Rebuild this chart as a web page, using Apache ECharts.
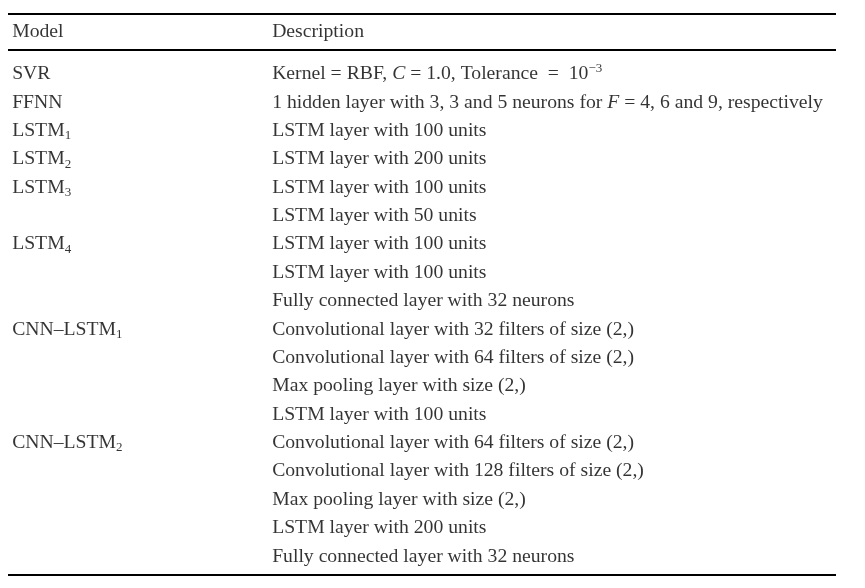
<!DOCTYPE html>
<html>
<head>
<meta charset="utf-8">
<script src="https://cdn.jsdelivr.net/npm/echarts@6/dist/echarts.min.js"></script>
<style>html,body{margin:0;padding:0;background:#fff}#c{width:865px;height:588px}</style>
</head>
<body>
<div id="c"></div>
<script>
// Table content
const headers = ['Model', 'Description'];
const models = ['SVR', 'FFNN', 'LSTM_1', 'LSTM_2', 'LSTM_3', '', 'LSTM_4', '', '',
  'CNN–LSTM_1', '', '', '', 'CNN–LSTM_2', '', '', '', ''];
const descriptions = [
  'Kernel = RBF, *C* = 1.0, Tolerance  =  10^−3',
  '1 hidden layer with 3, 3 and 5 neurons for *F* = 4, 6 and 9, respectively',
  'LSTM layer with 100 units',
  'LSTM layer with 200 units',
  'LSTM layer with 100 units',
  'LSTM layer with 50 units',
  'LSTM layer with 100 units',
  'LSTM layer with 100 units',
  'Fully connected layer with 32 neurons',
  'Convolutional layer with 32 filters of size (2,)',
  'Convolutional layer with 64 filters of size (2,)',
  'Max pooling layer with size (2,)',
  'LSTM layer with 100 units',
  'Convolutional layer with 64 filters of size (2,)',
  'Convolutional layer with 128 filters of size (2,)',
  'Max pooling layer with size (2,)',
  'LSTM layer with 200 units',
  'Fully connected layer with 32 neurons'
];
// layout positions (axis units)
const colPos = [0.005, 0.319];
const headerRow = -1.49;
const ruleRows = [-2.13, -0.85, 17.64];

function toRich(s) {
  return s.replace(/_(\d)/g, '{sub|$1}')
          .replace(/\*([^*]+)\*/g, '{it|$1}')
          .replace(/\^(\S+)/g, '{sup|$1}');
}

const FONT = 'Liberation Serif';
const FS = 19.7;
const COLOR = '#000';
const rich = {
  sub: { fontFamily: FONT, fontSize: 13, color: COLOR, padding: [10, 0, 0, 0] },
  sup: { fontFamily: FONT, fontSize: 13, color: COLOR, padding: [0, 0, 10, 0] },
  it: { fontFamily: FONT, fontSize: FS, fontStyle: 'italic', color: COLOR }
};

function cells(col, texts) {
  return texts.map((t, i) => ({ value: [colPos[col], i], txt: t }));
}

const allData = []
  .concat(headers.map((h, c) => ({ value: [colPos[c], headerRow], txt: h })))
  .concat(cells(0, models))
  .concat(cells(1, descriptions));

const chart = echarts.init(document.getElementById('c'), null, { renderer: 'canvas' });
chart.setOption({
  animation: false,
  backgroundColor: '#fff',
  grid: { left: 8, right: 29, top: 11.6, height: 573.2 },
  xAxis: { type: 'value', min: 0, max: 1, show: false },
  yAxis: { type: 'value', min: -2.2, max: 18, inverse: true, show: false },
  series: [{
    type: 'scatter',
    symbolSize: 0.01,
    itemStyle: { color: 'rgba(0,0,0,0)' },
    clip: false,
    silent: true,
    data: allData,
    label: {
      show: true,
      position: 'right',
      distance: 0,
      fontFamily: FONT,
      fontSize: FS,
      color: COLOR,
      formatter: p => toRich(p.data.txt),
      rich: rich
    },
    markLine: {
      silent: true,
      symbol: 'none',
      label: { show: false },
      lineStyle: { color: '#000', width: 2, type: 'solid' },
      data: ruleRows.map(r => ({ yAxis: r }))
    }
  }]
});
</script>
</body>
</html>
